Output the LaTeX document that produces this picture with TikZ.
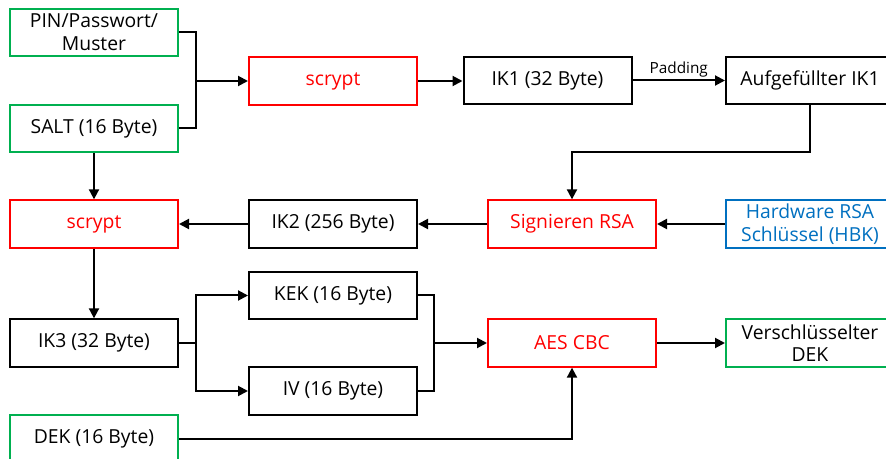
\documentclass[tikz,border=0pt]{standalone}
\usepackage{fontspec}
\setmainfont{Open Sans}
\usetikzlibrary{arrows.meta,calc}
\definecolor{cgreen}{RGB}{0,176,80}
\definecolor{cred}{RGB}{255,0,0}
\definecolor{cblue}{RGB}{0,112,192}
\tikzset{
  box/.style={draw, line width=1.5pt, minimum width=126pt, minimum height=35.5pt, inner sep=0pt, align=center, font=\fontsize{14.5}{17}\selectfont},
  gbox/.style={box, draw=cgreen, text=black},
  rbox/.style={box, draw=cred, text=cred},
  bbox/.style={box, draw=cblue, text=cblue},
  kbox/.style={box, draw=black, text=black},
  conn/.style={line width=1.5pt, draw=black},
  arr/.style={conn, -{Triangle[length=7.5pt,width=7.5pt]}},
}
\begin{document}
\begin{tikzpicture}[x=0.75pt,y=-0.75pt]
\useasboundingbox (0,0) rectangle (886,459);
\clip (0,0) rectangle (886,459);
\fill[white] (0,0) rectangle (886,459);
% nodes
\node[gbox] (pin) at (94,32.5) {PIN/Passwort/\\Muster};
\node[gbox] (salt) at (94,128.5) {SALT (16 Byte)};
\node[rbox] (s1) at (333,81) {scrypt};
\node[kbox] (ik1) at (547.5,80.5) {IK1 (32 Byte)};
\node[kbox] (auf) at (810,80.5) {Aufgefüllter IK1};
\node[rbox] (s2) at (94,224) {scrypt};
\node[kbox] (ik2) at (333,224) {IK2 (256 Byte)};
\node[rbox] (sig) at (572,224) {Signieren RSA};
\node[bbox] (hbk) at (810,224) {Hardware RSA\\Schlüssel (HBK)};
\node[kbox] (kek) at (333,295.5) {KEK (16 Byte)};
\node[kbox] (ik3) at (94,343) {IK3 (32 Byte)};
\node[rbox] (aes) at (572,343) {AES CBC};
\node[gbox] (ver) at (810,343) {Verschlüsselter\\DEK};
\node[kbox] (iv) at (333,391) {IV (16 Byte)};
\node[gbox] (dek) at (94,439) {DEK (16 Byte)};
% junctions
\coordinate (j1) at (196,81);
\coordinate (j2) at (196,343);
\coordinate (j3) at (434,343);
% connectors
\draw[conn] (pin.east) -| (j1);
\draw[conn] (salt.east) -| (j1);
\draw[arr] (j1) -- (s1.west);
\draw[arr] (s1.east) -- (ik1.west |- s1.east);
\draw[arr] (ik1.east) -- node[above, font=\fontsize{11.5}{13}\selectfont, inner sep=2pt] {Padding} (auf.west);
\draw[arr] (auf.south) -- ++(0,47) -| (sig.north);
\draw[arr] (hbk.west) -- (sig.east);
\draw[arr] (sig.west) -- (ik2.east);
\draw[arr] (ik2.west) -- (s2.east);
\draw[arr] (salt.south) -- (s2.north);
\draw[arr] (s2.south) -- (ik3.north);
\draw[conn] (ik3.east) -- (j2);
\draw[arr] (j2) |- (kek.west);
\draw[arr] (j2) |- (iv.west);
\draw[conn] (kek.east) -| (j3);
\draw[conn] (iv.east) -| (j3);
\draw[arr] (j3) -- (aes.west);
\draw[arr] (aes.east) -- (ver.west);
\draw[arr] (dek.east) -| (aes.south);
\end{tikzpicture}
\end{document}
